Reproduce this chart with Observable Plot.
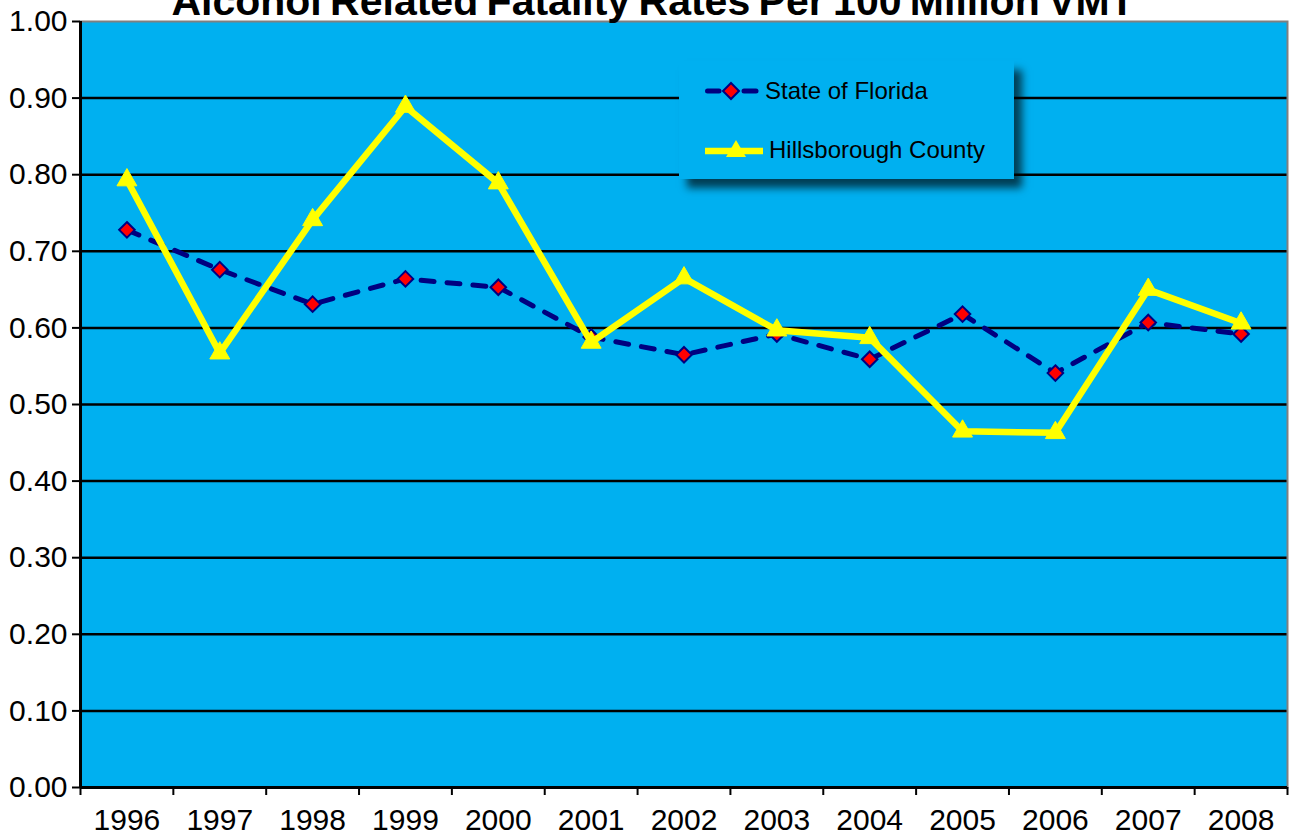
<!DOCTYPE html>
<html>
<head>
<meta charset="utf-8">
<script src="https://cdn.jsdelivr.net/npm/d3@7"></script>
<script src="https://cdn.jsdelivr.net/npm/@observablehq/plot@0.6"></script>
<style>
  html, body { margin: 0; padding: 0; background: #ffffff; }
  #wrap { position: relative; width: 1294px; height: 837px; overflow: hidden; font-family: "Liberation Sans", Arial, sans-serif; }
  #title { position: absolute; left: 0; width: 1306px; top: -19px; text-align: center; font-size: 41px; line-height: 40px; font-weight: bold; color: #000; word-spacing: -3px; white-space: nowrap; }
  #legend { position: absolute; left: 679px; top: 61px; width: 335px; height: 118px; background: #00B0F0; box-shadow: 8px 9px 8px rgba(0,0,0,0.65); }
  .lg { position: absolute; left: 0; height: 30px; display: flex; align-items: center; font-size: 24px; color: #000; white-space: nowrap; }
  .lg svg { margin-left: 26px; margin-right: 6px; }
</style>
</head>
<body>
<div id="wrap">
  <div id="chart"></div>
  <div id="title"></div>
  <div id="legend"></div>
</div>
<script>
const years = [1996, 1997, 1998, 1999, 2000, 2001, 2002, 2003, 2004, 2005, 2006, 2007, 2008];
const florida = [0.728, 0.676, 0.631, 0.664, 0.653, 0.588, 0.565, 0.592, 0.559, 0.618, 0.541, 0.607, 0.592];
const hillsborough = [0.793, 0.567, 0.741, 0.889, 0.789, 0.581, 0.665, 0.597, 0.587, 0.465, 0.463, 0.650, 0.606];
const yTicks = [0, 0.1, 0.2, 0.3, 0.4, 0.5, 0.6, 0.7, 0.8, 0.9, 1.0];
const gridLines = [0.1, 0.2, 0.3, 0.4, 0.5, 0.6, 0.7, 0.8, 0.9];
const seriesNames = ["State of Florida", "Hillsborough County"];
const titleText = "Alcohol Related Fatality Rates Per 100 Million VMT";

const flData = years.map((y, i) => ({year: y, value: florida[i]}));
const hbData = years.map((y, i) => ({year: y, value: hillsborough[i]}));
const boundaries = years.map(y => y - 0.5).concat([years[years.length - 1] + 0.5]);

const NAVY = "#000080", RED = "#FF0000", YELLOW = "#FFFF00", BG = "#00B0F0";

const chart = Plot.plot({
  width: 1294,
  height: 837,
  marginTop: 21,
  marginLeft: 80,
  marginRight: 7,
  marginBottom: 50,
  style: {fontFamily: '"Liberation Sans", Arial, sans-serif', fontSize: "30px", color: "#000", background: "transparent", overflow: "visible"},
  x: {type: "linear", domain: [boundaries[0], boundaries[boundaries.length - 1]]},
  y: {domain: [0, 1]},
  marks: [
    Plot.frame({fill: BG, stroke: null}),
    Plot.ruleY(gridLines, {stroke: "#000", strokeWidth: 2.5}),
    Plot.frame({stroke: "#808080", strokeWidth: 2}),
    Plot.ruleX([boundaries[0]], {stroke: "#000", strokeWidth: 3}),
    Plot.ruleY([0], {stroke: "#000", strokeWidth: 3}),
    Plot.axisY(yTicks, {tickFormat: d3.format(".2f"), tickSize: 8, tickPadding: 5, strokeWidth: 2, label: null, fontSize: 30}),
    Plot.axisX(boundaries, {tickFormat: () => "", tickSize: 8, strokeWidth: 2, label: null}),
    Plot.axisX(years, {tickFormat: d => String(d), tickSize: 0, tickPadding: 21, label: null, fontSize: 30}),
    Plot.line(flData, {x: "year", y: "value", stroke: NAVY, strokeWidth: 5, strokeDasharray: "13,13", strokeLinecap: "round", strokeLinejoin: "round"}),
    Plot.dot(flData, {x: "year", y: "value", symbol: "diamond2", r: 7, fill: RED, stroke: NAVY, strokeWidth: 2}),
    Plot.line(hbData, {x: "year", y: "value", stroke: YELLOW, strokeWidth: 6.5, strokeLinejoin: "miter"}),
    Plot.dot(hbData, {x: "year", y: "value", symbol: "triangle", r: 7.4, fill: YELLOW, stroke: YELLOW, strokeWidth: 1})
  ]
});
document.getElementById("chart").appendChild(chart);
document.getElementById("title").textContent = titleText;

const legend = document.getElementById("legend");
const items = [
  {name: seriesNames[0], top: 15, svg: `<svg width="54" height="20" viewBox="0 0 54 20">
      <line x1="2.5" y1="10" x2="14" y2="10" stroke="${NAVY}" stroke-width="5" stroke-linecap="round"/>
      <line x1="39" y1="10" x2="51" y2="10" stroke="${NAVY}" stroke-width="5" stroke-linecap="round"/>
      <path d="M26,2 L34,10 L26,18 L18,10 Z" fill="${RED}" stroke="${NAVY}" stroke-width="2"/></svg>`},
  {name: seriesNames[1], top: 74, svg: `<svg width="58" height="24" viewBox="0 0 58 24">
      <line x1="0" y1="13" x2="58" y2="13" stroke="${YELLOW}" stroke-width="6.5"/>
      <path d="M31,2 L41,19 L21,19 Z" fill="${YELLOW}"/></svg>`}
];
items.forEach(it => {
  const div = document.createElement("div");
  div.className = "lg";
  div.style.top = it.top + "px";
  div.innerHTML = it.svg + `<span>${it.name}</span>`;
  legend.appendChild(div);
});
</script>
</body>
</html>
